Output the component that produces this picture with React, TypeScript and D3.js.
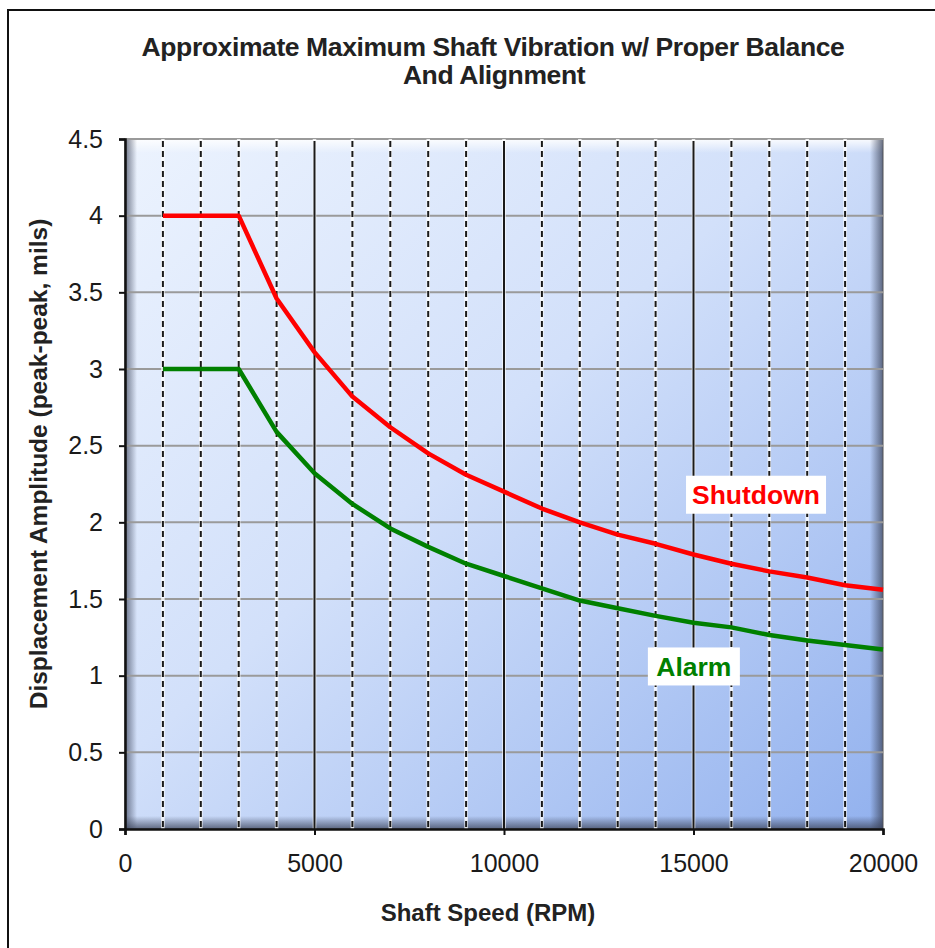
import React, { useEffect, useRef } from 'react'
import * as d3 from 'd3'

const rpm = [1000, 2000, 3000, 4000, 5000, 6000, 7000, 8000, 9000, 10000, 11000, 12000, 13000, 14000, 15000, 16000, 17000, 18000, 19000, 20000]
const shutdown = [4, 4, 4, 3.46, 3.11, 2.82, 2.62, 2.45, 2.31, 2.2, 2.09, 2.0, 1.92, 1.86, 1.79, 1.73, 1.68, 1.64, 1.59, 1.56]
const alarm = [3, 3, 3, 2.59, 2.32, 2.12, 1.96, 1.84, 1.73, 1.65, 1.57, 1.49, 1.44, 1.39, 1.345, 1.315, 1.265, 1.23, 1.2, 1.17]
const yTicks = [0, 0.5, 1, 1.5, 2, 2.5, 3, 3.5, 4, 4.5]
const xTicks = [0, 5000, 10000, 15000, 20000]
const minorX = d3.range(1000, 20000, 1000)

const W = 935
const H = 948
const font = 'Arial, Liberation Sans, sans-serif'

const App = () => {
  const svgRef = useRef<SVGSVGElement>(null)

  useEffect(() => {
    const svg = d3.select(svgRef.current)
    svg.selectAll('*').remove()

    const left = 125
    const right = 883
    const top = 139
    const bottom = 829

    const x = d3.scaleLinear().domain([0, 20000]).range([left, right])
    const y = d3.scaleLinear().domain([0, 4.5]).range([bottom, top])

    const defs = svg.append('defs')
    const bg = defs.append('linearGradient').attr('id', 'bg').attr('x1', 0).attr('y1', 0).attr('x2', 1).attr('y2', 1)
    bg.append('stop').attr('offset', '0%').attr('stop-color', '#ecf3fe')
    bg.append('stop').attr('offset', '45%').attr('stop-color', '#d2e0fa')
    bg.append('stop').attr('offset', '100%').attr('stop-color', '#92b1ee')

    const shade = (id: string, x1: number, y1: number, x2: number, y2: number, c: string, o: number) => {
      const g = defs.append('linearGradient').attr('id', id)
        .attr('x1', x1).attr('y1', y1).attr('x2', x2).attr('y2', y2)
      g.append('stop').attr('offset', '0%').attr('stop-color', c).attr('stop-opacity', o)
      g.append('stop').attr('offset', '100%').attr('stop-color', c).attr('stop-opacity', 0)
    }
    shade('shL', 0, 0, 1, 0, '#3a4258', 0.7)
    shade('shR', 1, 0, 0, 0, '#3a4258', 0.75)
    shade('shB', 0, 1, 0, 0, '#3a4258', 0.75)
    shade('shT', 0, 0, 0, 1, '#ffffff', 0.9)

    // outer frame
    svg.append('rect')
      .attr('x', 8).attr('y', 10).attr('width', W).attr('height', H)
      .attr('fill', 'white').attr('stroke', '#111').attr('stroke-width', 2)

    // plot area
    svg.append('rect')
      .attr('x', left).attr('y', top).attr('width', right - left).attr('height', bottom - top)
      .attr('fill', 'url(#bg)')
      .attr('stroke', '#a8a8a8').attr('stroke-width', 2)

    svg.append('rect').attr('x', left).attr('y', top).attr('width', right - left).attr('height', 14).attr('fill', 'url(#shT)')
    svg.append('rect').attr('x', left).attr('y', top).attr('width', 12).attr('height', bottom - top).attr('fill', 'url(#shL)')
    svg.append('rect').attr('x', right - 13).attr('y', top).attr('width', 13).attr('height', bottom - top).attr('fill', 'url(#shR)')
    svg.append('rect').attr('x', left).attr('y', bottom - 13).attr('width', right - left).attr('height', 13).attr('fill', 'url(#shB)')

    // horizontal grid
    svg.append('g').selectAll('line').data(yTicks.slice(1)).enter().append('line')
      .attr('x1', left).attr('x2', right)
      .attr('y1', d => y(d)).attr('y2', d => y(d))
      .attr('stroke', '#9a9a9a').attr('stroke-width', 2)

    // vertical grid
    const vg = svg.append('g')
    vg.selectAll('line.w').data(minorX).enter().append('line')
      .attr('x1', d => x(d)).attr('x2', d => x(d))
      .attr('y1', top).attr('y2', bottom)
      .attr('stroke', 'white').attr('stroke-width', 3.5).attr('opacity', 0.8)
    vg.selectAll('line.g').data(minorX).enter().append('line')
      .attr('x1', d => x(d)).attr('x2', d => x(d))
      .attr('y1', top + 2).attr('y2', bottom)
      .attr('stroke', '#1a1a1a').attr('stroke-width', 2)
      .attr('stroke-dasharray', d => (d % 5000 === 0 ? null : '6,4'))

    // series
    const line = d3.line<number>().x((_, i) => x(rpm[i])).y(d => y(d))
    svg.append('path').datum(alarm).attr('d', line)
      .attr('fill', 'none').attr('stroke', '#008000').attr('stroke-width', 4.5).attr('stroke-linejoin', 'round')
    svg.append('path').datum(shutdown).attr('d', line)
      .attr('fill', 'none').attr('stroke', '#ff0000').attr('stroke-width', 4.5).attr('stroke-linejoin', 'round')

    // axes
    const yAxis = d3.axisLeft(y).tickValues(yTicks).tickSize(6).tickPadding(16).tickFormat(d3.format('~g'))
    const gy = svg.append('g').attr('transform', `translate(${left},0)`).call(yAxis)
    const xAxis = d3.axisBottom(x).tickValues(xTicks).tickSize(6).tickPadding(19).tickFormat(d3.format('d'))
    const gx = svg.append('g').attr('transform', `translate(0,${bottom})`).call(xAxis)
    for (const g of [gx, gy]) {
      g.select('.domain').attr('stroke', '#111').attr('stroke-width', 2.5)
      g.selectAll('.tick line').attr('stroke', '#111').attr('stroke-width', 2)
      g.selectAll('.tick text').attr('font-family', font).attr('font-size', 25).attr('fill', '#1a1a1a')
    }

    // annotations
    const label = (text: string, vx: number, vy: number, color: string, w: number) => {
      const cx = x(vx)
      const cy = y(vy)
      svg.append('rect').attr('x', cx - w / 2).attr('y', cy - 19).attr('width', w).attr('height', 38).attr('fill', 'white')
      svg.append('text').attr('x', cx).attr('y', cy + 9.5)
        .attr('text-anchor', 'middle').attr('font-family', font)
        .attr('font-weight', 'bold').attr('font-size', 26.5).attr('fill', color).text(text)
    }
    label('Shutdown', 16650, 2.18, '#ff0000', 140)
    label('Alarm', 15010, 1.06, '#008000', 92)

    // titles
    svg.append('text').attr('x', 493).attr('y', 56).attr('text-anchor', 'middle')
      .attr('font-family', font).attr('font-weight', 'bold').attr('font-size', 26.5).attr('letter-spacing', -0.4)
      .attr('fill', '#222').text('Approximate Maximum Shaft Vibration w/ Proper Balance')
    svg.append('text').attr('x', 494).attr('y', 84).attr('text-anchor', 'middle')
      .attr('font-family', font).attr('font-weight', 'bold').attr('font-size', 26.5).attr('letter-spacing', -0.4)
      .attr('fill', '#222').text('And Alignment')
    svg.append('text').attr('x', 488).attr('y', 921).attr('text-anchor', 'middle')
      .attr('font-family', font).attr('font-weight', 'bold').attr('font-size', 24)
      .attr('fill', '#222').text('Shaft Speed (RPM)')
    svg.append('text').attr('transform', `translate(47,464) rotate(-90)`).attr('text-anchor', 'middle')
      .attr('font-family', font).attr('font-weight', 'bold').attr('font-size', 24.5)
      .attr('fill', '#222').text('Displacement Amplitude (peak-peak, mils)')
  }, [])

  return <svg ref={svgRef} width={W} height={H} style={{ position: 'absolute', left: 0, top: 0 }} />
}

export default App
